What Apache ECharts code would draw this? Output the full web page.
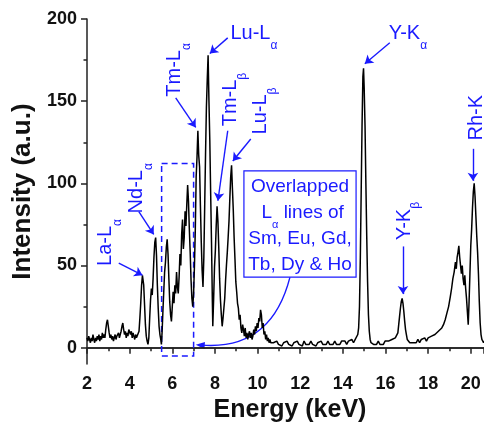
<!DOCTYPE html>
<html>
<head>
<meta charset="utf-8">
<script src="https://cdn.jsdelivr.net/npm/echarts@6/dist/echarts.min.js"></script>
<style>
  html, body { margin: 0; padding: 0; background: #fff; }
  #container { width: 484px; height: 428px; }
</style>
</head>
<body>
<div id="container"></div>
<script>
// spectrum, [energy keV, intensity a.u.]
const baseLow = [[2.00,6],[2.04,4],[2.08,7],[2.12,5],[2.16,3],[2.20,6],[2.24,4],[2.28,8],[2.32,5],[2.36,3],[2.40,6],[2.44,4],[2.48,7],[2.52,5],[2.56,8],[2.60,4],[2.64,7],[2.68,5],[2.72,9],[2.76,6],[2.80,8],[2.84,6],[2.88,11],[2.92,15],[2.96,17],[3.00,13],[3.04,9],[3.08,6],[3.12,8],[3.16,5],[3.20,7],[3.24,4],[3.28,6],[3.32,8],[3.36,5],[3.40,7],[3.44,6],[3.48,9],[3.52,6],[3.56,8],[3.60,10],[3.64,13],[3.68,15],[3.72,11],[3.76,8],[3.80,10],[3.84,6],[3.88,9],[3.92,7],[3.96,11],[4.00,12],[4.04,8],[4.08,10],[4.12,6],[4.16,9],[4.20,7],[4.24,5],[4.28,8],[4.32,6],[4.36,5],[4.40,7]];

const reeLines = [[4.44,10],[4.48,18],[4.52,27],[4.56,38],[4.60,44],[4.63,45],[4.66,38],[4.70,26],[4.74,14],[4.78,7],[4.82,4],[4.86,2],[4.90,6],[4.94,18],[4.98,29],[5.02,36],[5.06,32],[5.10,42],[5.14,55],[5.18,64],[5.22,67],[5.26,56],[5.30,38],[5.34,24],[5.38,13],[5.42,8],[5.46,5],[5.49,2],[5.52,9],[5.56,22],[5.60,34],[5.64,46],[5.68,52],[5.72,61],[5.76,66],[5.80,57],[5.84,42],[5.88,28],[5.92,20],[5.96,16],[6.00,25],[6.04,34],[6.08,27],[6.12,38],[6.16,33],[6.20,46],[6.24,37],[6.28,33],[6.32,43],[6.36,57],[6.40,50],[6.44,69],[6.48,78],[6.52,60],[6.56,67],[6.60,83],[6.64,74],[6.68,87],[6.72,99],[6.76,89],[6.80,72],[6.84,58],[6.88,41],[6.92,30],[6.96,25],[7.00,33],[7.04,50],[7.08,72],[7.12,104],[7.16,116],[7.20,132],[7.24,117],[7.28,110],[7.32,86],[7.36,64],[7.40,47],[7.44,37],[7.48,55],[7.52,86],[7.56,118],[7.60,146],[7.64,163],[7.68,178],[7.72,150],[7.76,126],[7.80,94],[7.84,64],[7.88,28],[7.90,13],[7.94,30],[7.98,49],[8.02,59],[8.06,74],[8.10,86],[8.14,77],[8.18,61],[8.22,42],[8.26,29],[8.30,20],[8.34,13],[8.38,18],[8.42,24],[8.46,30],[8.50,41],[8.54,50],[8.58,58],[8.62,67],[8.66,77],[8.70,91],[8.74,104],[8.78,111],[8.82,97],[8.86,84],[8.90,67],[8.94,54],[8.98,40],[9.02,34],[9.06,27],[9.10,24],[9.14,17],[9.18,20],[9.22,12],[9.26,9],[9.30,14],[9.34,11],[9.38,7],[9.42,12],[9.46,6],[9.50,9],[9.54,5],[9.58,8],[9.62,10],[9.66,6],[9.70,9],[9.74,5],[9.78,7],[9.82,11],[9.86,8],[9.90,13],[9.94,10],[9.98,15],[10.02,12],[10.06,18],[10.10,16],[10.14,23],[10.18,20],[10.22,12],[10.26,15],[10.30,8],[10.34,10],[10.38,5],[10.42,8],[10.46,4],[10.50,6],[10.54,3],[10.58,5],[10.62,3],[10.66,4],[10.70,2]];

const baseMid = [[10.74,3],[10.82,2],[10.90,4],[10.98,2],[11.06,3],[11.14,1],[11.22,3],[11.30,2],[11.38,4],[11.46,2],[11.54,3],[11.62,1],[11.70,3],[11.78,2],[11.86,4],[11.94,2],[12.02,3],[12.10,1],[12.18,4],[12.26,2],[12.34,3],[12.42,2],[12.50,4],[12.58,2],[12.66,3],[12.74,1],[12.82,3],[12.90,2],[12.98,4],[13.06,2],[13.14,3],[13.22,2],[13.30,4],[13.38,2],[13.46,3],[13.54,2],[13.62,4],[13.70,2],[13.78,3],[13.86,2],[13.94,4],[14.02,3],[14.10,4],[14.18,2],[14.26,4],[14.34,3],[14.42,5],[14.50,3],[14.58,5],[14.64,6]];

const yttriumK = [[14.70,8],[14.74,12],[14.78,25],[14.82,55],[14.86,95],[14.90,135],[14.94,165],[14.97,170],[15.00,158],[15.04,135],[15.08,100],[15.12,68],[15.16,40],[15.20,20],[15.24,10],[15.28,5],[15.32,3],[15.38,4],[15.44,2],[15.50,3],[15.58,2],[15.66,4],[15.74,2],[15.82,3],[15.90,2],[15.98,4],[16.06,3],[16.14,4],[16.22,3],[16.30,5],[16.38,4],[16.46,6],[16.52,7],[16.58,9],[16.62,14],[16.66,19],[16.70,24],[16.74,28],[16.78,30],[16.82,27],[16.86,22],[16.90,16],[16.94,11],[16.98,8],[17.02,5],[17.08,4]];

const rhodiumK = [[17.14,3],[17.20,4],[17.28,3],[17.36,4],[17.44,3],[17.52,5],[17.60,3],[17.68,5],[17.76,4],[17.84,6],[17.92,4],[18.00,6],[18.08,5],[18.16,7],[18.24,6],[18.32,8],[18.40,7],[18.48,10],[18.56,9],[18.64,12],[18.72,14],[18.80,17],[18.88,21],[18.96,25],[19.04,31],[19.10,36],[19.16,42],[19.22,46],[19.28,52],[19.32,48],[19.36,55],[19.40,58],[19.44,62],[19.48,55],[19.52,50],[19.56,45],[19.60,50],[19.64,42],[19.68,38],[19.72,44],[19.76,36],[19.80,30],[19.84,22],[19.88,14],[19.92,28],[19.96,45],[20.00,62],[20.04,72],[20.08,85],[20.12,95],[20.16,100],[20.20,92],[20.24,80],[20.28,68],[20.32,58],[20.36,45],[20.40,28],[20.44,15],[20.48,8],[20.52,5],[20.56,4],[20.60,3],[20.64,4]];

const xTicks = [2, 4, 6, 8, 10, 12, 14, 16, 18, 20];
const yTicks = [0, 50, 100, 150, 200];
const yMinorTicks = [25, 75, 125, 175];

// peak annotations (data coordinates)
const peakNames = ['La-L', 'Nd-L', 'Tm-L', 'Lu-L', 'Tm-L', 'Lu-L', 'Y-K', 'Y-K', 'Rh-K'];
const peakSubs = ['α', 'α', 'α', 'α', 'β', 'β', 'α', 'β', 'α'];
const labelAt = [[3.2,64],[4.64,97],[6.42,169],[9.83,187],[9.08,151],[10.47,144],[17.05,187],[17.2,77],[20.6,142]];
const labelRotate = [90, 90, 90, 0, 90, 90, 0, 90, 90];
const arrowFrom = [[3.49,51.4],[4.43,82.8],[6.16,152],[8.6,188.5],[8.6,132],[9.68,127],[16.2,185.5],[16.82,61.6],[20.1,121]];
const arrowTo = [[4.6,44.1],[5.13,68.9],[7.1,134],[7.76,179],[8.14,89.4],[8.84,113.6],[15.03,172.8],[16.82,32.6],[20.1,101.5]];

const dashedBox = [[5.5,112],[7.0,-5]];
const noteBox = [[9.36,107.6],[14.62,42.9]];
const noteArrow = [[11.52,42.9],[7.1,1.8]];

const blue = '#1a1aff';
const font = "'Liberation Sans', Arial, sans-serif";
const spectrum = [].concat(baseLow, reeLines, baseMid, yttriumK, rhodiumK);

const subRich = size => ({
  m: { fontSize: size, fontFamily: font, color: blue, verticalAlign: 'bottom', lineHeight: size + 2, padding: [0, 0, 8, 0] },
  s: { fontSize: 12, fontFamily: font, color: blue, verticalAlign: 'bottom', lineHeight: 14 }
});

const chart = echarts.init(document.getElementById('container'));

const axisLine = { show: true, lineStyle: { color: '#222', width: 1.5 } };

const option = {
  animation: false,
  grid: { left: 87, right: 0, top: 19, bottom: 62 },
  xAxis: [
    {
      type: 'value', min: 2, max: 20.62, interval: 2,
      name: 'Energy (keV)', nameLocation: 'middle', nameGap: 33,
      nameTextStyle: { fontSize: 25, fontWeight: 'bold', fontFamily: font, color: '#111', padding: [0, 0, 0, 9] },
      axisLine: axisLine,
      axisTick: { show: true, length: 6, lineStyle: { color: '#222', width: 1.5 } },
      minorTick: { show: true, splitNumber: 2, length: 3.5, lineStyle: { color: '#222', width: 1.5 } },
      axisLabel: { fontSize: 18, fontWeight: 'bold', fontFamily: font, color: '#111', margin: 11, showMaxLabel: false,
        formatter: v => xTicks.includes(v) ? String(v) : '' },
      splitLine: { show: false }
    },
    {
      type: 'value', min: 2, max: 20.62, position: 'top',
      axisLine: axisLine, axisTick: { show: false }, axisLabel: { show: false }, splitLine: { show: false }
    }
  ],
  yAxis: [
    {
      type: 'value', min: -10, max: 200,
      name: 'Intensity (a.u.)', nameLocation: 'middle', nameGap: 49,
      nameTextStyle: { fontSize: 26, fontWeight: 'bold', fontFamily: font, color: '#111' },
      axisLine: axisLine,
      axisTick: { show: true, length: 6, customValues: yTicks, lineStyle: { color: '#222', width: 1.5 } },
      axisLabel: { fontSize: 18, fontWeight: 'bold', fontFamily: font, color: '#111', margin: 10, customValues: yTicks },
      splitLine: { show: false }
    },
    {
      type: 'value', min: -10, max: 200, position: 'left',
      axisLine: { show: false },
      axisTick: { show: true, length: 3.5, customValues: yMinorTicks, lineStyle: { color: '#222', width: 1.5 } },
      axisLabel: { show: false },
      splitLine: { show: false }
    }
  ],
  series: [
    {
      type: 'line',
      data: spectrum,
      showSymbol: false,
      silent: true,
      lineStyle: { color: '#000', width: 1.5 },
      markArea: {
        silent: true,
        data: [
          [
            { coord: dashedBox[0], itemStyle: { color: 'rgba(0,0,0,0)', borderColor: blue, borderWidth: 1.5, borderType: [6, 4] }, label: { show: false } },
            { coord: dashedBox[1] }
          ],
          [
            {
              coord: noteBox[0],
              itemStyle: { color: '#fff', borderColor: blue, borderWidth: 1.2 },
              label: {
                show: true, position: 'inside',
                formatter: '{t|Overlapped}\n{t| L}{s|α}{t| lines of}\n{t|Sm, Eu, Gd,}\n{t|Tb, Dy & Ho}',
                rich: {
                  t: { fontSize: 19, fontFamily: font, color: blue, lineHeight: 26, verticalAlign: 'bottom', padding: [0, 0, 2, 0] },
                  s: { fontSize: 11, fontFamily: font, color: blue, lineHeight: 12, verticalAlign: 'bottom', padding: [0, 0, -6, 0] }
                }
              }
            },
            { coord: noteBox[1] }
          ]
        ]
      },
      markLine: {
        silent: true,
        symbol: ['none', 'arrow'],
        symbolSize: 8,
        label: { show: false },
        lineStyle: { color: blue, width: 1.4, type: 'solid' },
        data: arrowFrom.map((from, i) => [{ coord: from }, { coord: arrowTo[i] }])
      },
      markPoint: {
        silent: true,
        symbol: 'circle',
        symbolSize: 1,
        itemStyle: { color: 'rgba(0,0,0,0)' },
        data: labelAt.map((pos, i) => ({
          coord: pos,
          label: {
            show: true,
            position: 'inside',
            rotate: labelRotate[i],
            formatter: '{m|' + peakNames[i] + '}{s|' + peakSubs[i] + '}',
            rich: subRich(20)
          }
        }))
      }
    }
  ]
};

chart.setOption(option);

// curved arrow from the note box down to the dashed region
const p1 = chart.convertToPixel({ gridIndex: 0 }, noteArrow[0]);
const p2 = chart.convertToPixel({ gridIndex: 0 }, noteArrow[1]);
const bend = 0.42;
const cp = [
  (p1[0] + p2[0]) / 2 - (p1[1] - p2[1]) * bend,
  (p1[1] + p2[1]) / 2 - (p2[0] - p1[0]) * bend
];
const dx = p2[0] - cp[0], dy = p2[1] - cp[1];
const len = Math.sqrt(dx * dx + dy * dy);
const ux = dx / len, uy = dy / len;
const head = [
  [p2[0], p2[1]],
  [p2[0] - ux * 9 - uy * 3.5, p2[1] - uy * 9 + ux * 3.5],
  [p2[0] - ux * 9 + uy * 3.5, p2[1] - uy * 9 - ux * 3.5]
];

chart.setOption({
  graphic: [
    {
      type: 'bezierCurve', silent: true,
      shape: { x1: p1[0], y1: p1[1], x2: p2[0] - ux * 6, y2: p2[1] - uy * 6, cpx1: cp[0], cpy1: cp[1] },
      style: { stroke: blue, lineWidth: 1.4, fill: null }
    },
    {
      type: 'polygon', silent: true,
      shape: { points: head },
      style: { fill: blue }
    }
  ]
});
</script>
</body>
</html>
